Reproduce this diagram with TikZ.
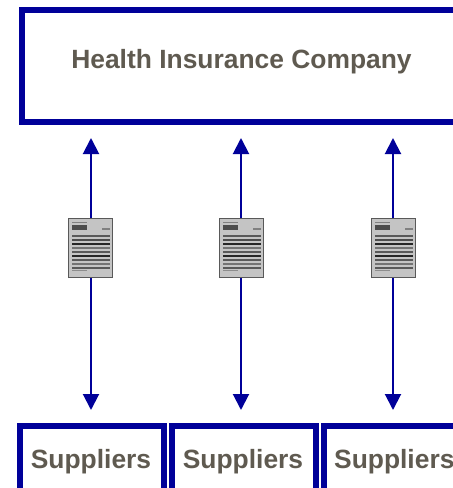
\documentclass[tikz,border=0pt]{standalone}
\usepackage{fontspec}
\setmainfont{Liberation Sans}
\usetikzlibrary{arrows.meta}
\definecolor{navy}{HTML}{000099}
\definecolor{ink}{HTML}{5F5A50}
\definecolor{paper}{HTML}{C4C4C4}
\tikzset{
  x=1pt,y=-1pt,
  frame/.style={draw=navy,line width=6pt,fill=white,inner sep=0pt,outer sep=0pt},
  lbl/.style={font=\bfseries\fontsize{26.4}{28}\selectfont,text=ink,inner sep=0pt,anchor=base},
  link/.style={draw=navy,line width=2pt,-{Triangle[length=16pt,width=16pt]}},
  docicon/.style={inner sep=0pt,outer sep=0pt,minimum width=45pt,minimum height=60pt,fill=paper,draw=none},
}
\begin{document}
\begin{tikzpicture}
\useasboundingbox (0,0) rectangle (453,488);
\clip (0,0) rectangle (453,488);
\node[frame,minimum width=500pt,minimum height=112pt,anchor=north west] (top) at (22,10) {};
\node[lbl] (toplabel) at (241.5,68) {Health Insurance Company};
\node[frame,minimum width=144pt,minimum height=65pt,anchor=north west] (s1) at (20,426) {};
\node[frame,minimum width=144pt,minimum height=65pt,anchor=north west] (s2) at (172,426) {};
\node[frame,minimum width=144pt,minimum height=65pt,anchor=north west] (s3) at (324,426) {};
\node[lbl] (l1) at (91,468) {Suppliers};
\node[lbl] (l2) at (243,468) {Suppliers};
\node[lbl] (l3) at (394.3,468) {Suppliers};
\node[docicon] (d1) at (90,248) {};
\node[docicon] (d2) at (241,248) {};
\node[docicon] (d3) at (393,248) {};
\foreach \n in {d1,d2,d3}{
  \begin{scope}[shift={(\n.north west)}]
    \draw[line width=1pt,color=black!65] (0.5,60) -- (0.5,0.5) -- (44.5,0.5) -- (44.5,60);
    \fill[black!65] (0,58.5) rectangle (45,60);
    \fill[black!50] (4,3.5) rectangle (19,5);
    \fill[black!70] (4,7) rectangle (19,12);
    \fill[black!50] (34,10) rectangle (42,12);
    \foreach \yy/\sh in {17/65,21/70,25/85,29/55,33/65,37/85,41/65,45/55,49/65}
      \fill[black!\sh] (4,\yy) rectangle (42,\yy+2);
    \fill[black!45] (4,52) rectangle (19,53);
  \end{scope}
}
\coordinate (a1) at (91,138); \coordinate (b1) at (91,410);
\coordinate (a2) at (241,138); \coordinate (b2) at (241,410);
\coordinate (a3) at (393,138); \coordinate (b3) at (393,410);
\draw[link] (d1.north -| a1) -- (a1);
\draw[link] (d1.south -| b1) -- (b1);
\draw[link] (d2.north) -- (a2);
\draw[link] (d2.south) -- (b2);
\draw[link] (d3.north) -- (a3);
\draw[link] (d3.south) -- (b3);
\end{tikzpicture}
\end{document}
